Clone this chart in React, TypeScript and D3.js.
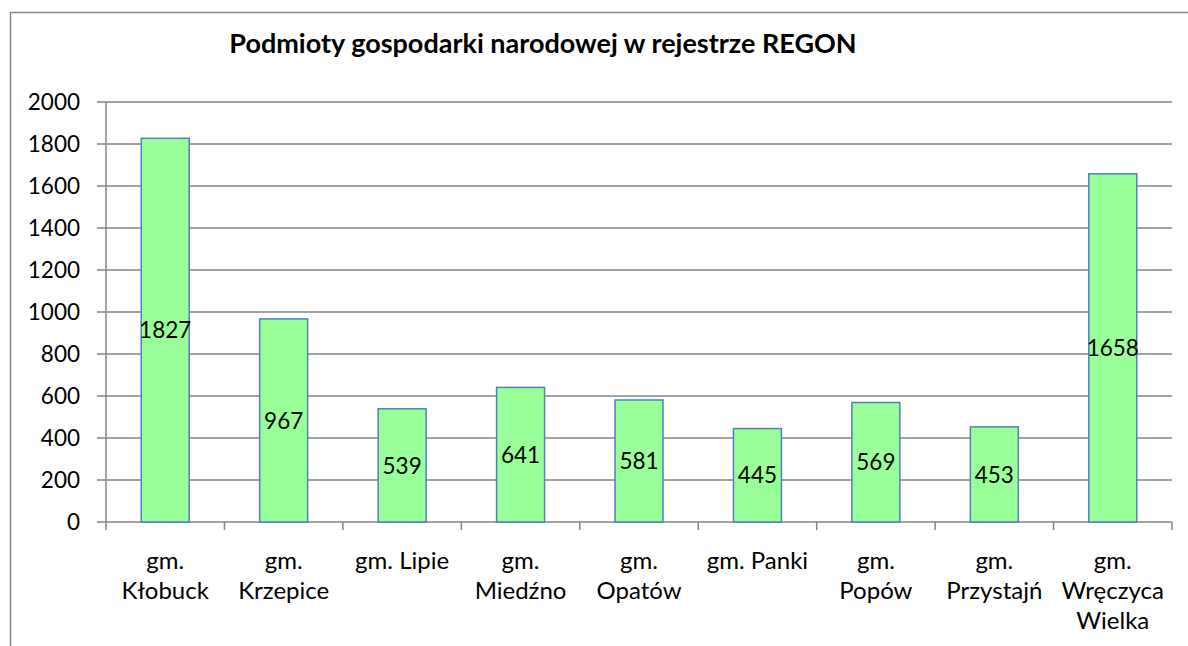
import React, { useEffect, useRef } from 'react';
import * as d3 from 'd3';

const title = 'Podmioty gospodarki narodowej w rejestrze REGON';
const categories = [
  'gm. Kłobuck',
  'gm. Krzepice',
  'gm. Lipie',
  'gm. Miedźno',
  'gm. Opatów',
  'gm. Panki',
  'gm. Popów',
  'gm. Przystajń',
  'gm. Wręczyca Wielka',
];
// how Excel wrapped each category label
const categoryLines = [
  ['gm.', 'Kłobuck'],
  ['gm.', 'Krzepice'],
  ['gm. Lipie'],
  ['gm.', 'Miedźno'],
  ['gm.', 'Opatów'],
  ['gm. Panki'],
  ['gm.', 'Popów'],
  ['gm.', 'Przystajń'],
  ['gm.', 'Wręczyca', 'Wielka'],
];
const values = [1827, 967, 539, 641, 581, 445, 569, 453, 1658];
const yTicks = [0, 200, 400, 600, 800, 1000, 1200, 1400, 1600, 1800, 2000];

const W = 1188;
const H = 646;
const font = 'Lato, Carlito, "Open Sans", sans-serif';

const App = () => {
  const svgRef = useRef<SVGSVGElement>(null);

  useEffect(() => {
    const svg = d3.select(svgRef.current);
    svg.selectAll('*').remove();

    const plot = { left: 106, right: 1172, top: 102, bottom: 522 };
    const grid = '#868686';

    // outer chart frame (extends past the picture on right and bottom)
    svg.append('path')
      .attr('d', `M10.5,${H + 10} L10.5,12.5 L${W + 10},12.5`)
      .attr('fill', 'none')
      .attr('stroke', grid)
      .attr('stroke-width', 1.5);

    svg.append('text')
      .attr('x', 543)
      .attr('y', 53)
      .attr('text-anchor', 'middle')
      .style('font-family', font)
      .style('font-size', '27px')
      .style('font-weight', 700)
      .style('fill', '#000')
      .text(title);

    const x = d3.scaleBand().domain(categories).range([plot.left, plot.right]).paddingInner(0).paddingOuter(0);
    const y = d3.scaleLinear().domain([0, 2000]).range([plot.bottom, plot.top]);
    const barW = x.bandwidth() * 0.405;

    const g = svg.append('g');

    // gridlines + y ticks
    yTicks.forEach(t => {
      g.append('line')
        .attr('x1', plot.left - 9).attr('x2', plot.right)
        .attr('y1', y(t)).attr('y2', y(t))
        .attr('stroke', grid).attr('stroke-width', 1.5);
      g.append('text')
        .attr('x', 80)
        .attr('y', y(t))
        .attr('dy', '0.36em')
        .attr('text-anchor', 'end')
        .style('font-family', font)
        .style('font-size', '22.5px')
        .style('fill', '#000')
        .text(t);
    });

    // y axis line
    g.append('line')
      .attr('x1', plot.left).attr('x2', plot.left)
      .attr('y1', plot.top).attr('y2', plot.bottom)
      .attr('stroke', grid).attr('stroke-width', 1.5);

    // x ticks at band boundaries
    const bounds = categories.map(c => x(c)!).concat([plot.right]);
    bounds.forEach(b => {
      g.append('line')
        .attr('x1', b).attr('x2', b)
        .attr('y1', plot.bottom).attr('y2', plot.bottom + 8)
        .attr('stroke', grid).attr('stroke-width', 1.5);
    });

    // bars
    categories.forEach((c, i) => {
      const cx = x(c)! + x.bandwidth() / 2;
      g.append('rect')
        .attr('x', cx - barW / 2)
        .attr('y', y(values[i]))
        .attr('width', barW)
        .attr('height', y(0) - y(values[i]))
        .attr('fill', '#99ff99')
        .attr('stroke', '#4f81bd')
        .attr('stroke-width', 1.5);

      g.append('text')
        .attr('x', cx)
        .attr('y', y(values[i] / 2))
        .attr('dy', '0.36em')
        .attr('text-anchor', 'middle')
        .style('font-family', font)
        .style('font-size', '22.5px')
        .style('fill', '#000')
        .text(values[i]);

      const label = g.append('text')
        .attr('text-anchor', 'middle')
        .style('font-family', font)
        .style('font-size', '24px')
        .style('fill', '#000');
      categoryLines[i].forEach((line, j) => {
        label.append('tspan')
          .attr('x', cx)
          .attr('y', 569 + j * 30)
          .text(line);
      });
    });
  }, []);

  return <svg ref={svgRef} width={W} height={H} style={{ display: 'block', position: 'absolute', left: 0, top: 0, background: '#fff' }} />;
};

export default App;
